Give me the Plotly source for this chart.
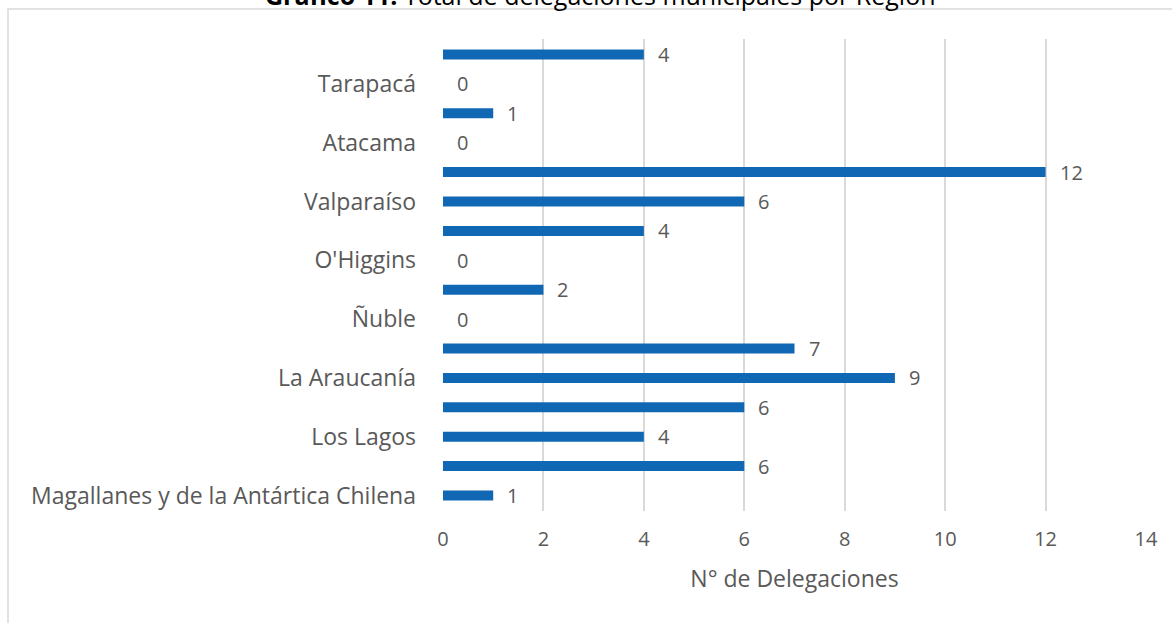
import plotly.graph_objects as go

regions = [
    "Arica y Parinacota", "Tarapacá", "Antofagasta", "Atacama", "Coquimbo",
    "Valparaíso", "Metropolitana de Santiago", "O'Higgins", "Maule", "Ñuble",
    "Biobío", "La Araucanía", "Los Ríos", "Los Lagos",
    "Aysén del General Carlos Ibáñez del Campo", "Magallanes y de la Antártica Chilena",
]
delegaciones = [4, 0, 1, 0, 12, 6, 4, 0, 2, 0, 7, 9, 6, 4, 6, 1]
# Only every other category label is displayed in the original chart
tick_labels = [r if i % 2 == 1 else "" for i, r in enumerate(regions)]
x_ticks = [0, 2, 4, 6, 8, 10, 12, 14]

W, H = 1172, 623
L, R, T, B = 443, 26, 39, 112
pw, ph = W - L - R, H - T - B

grey = "#595959"
font_family = "Open Sans, Calibri, sans-serif"

fig = go.Figure()
fig.add_trace(go.Bar(
    x=delegaciones, y=regions, orientation="h",
    marker=dict(color="#1068B4", line=dict(width=0)),
    width=0.34, hoverinfo="x+y",
))

for r, v in zip(regions, delegaciones):
    fig.add_annotation(x=v, y=r, xref="x", yref="y", text=str(v),
                       showarrow=False, xanchor="left", xshift=12,
                       font=dict(size=20, color=grey, family=font_family))

# Title (partially cut at top, as in the reference)
fig.add_annotation(
    x=(600 - L) / pw, xref="paper", xanchor="center",
    y=1, yref="paper", yanchor="middle", yshift=T + 5,
    text="<b>Gráfico 11.</b> Total de delegaciones municipales por Región",
    showarrow=False, font=dict(size=25, color="#000000", family=font_family),
)

# Chart frame
fig.add_shape(type="rect", xref="paper", yref="paper",
              x0=(8 - L) / pw, x1=1.2, y0=-0.5, y1=1 + (T - 9) / ph,
              line=dict(color="#D9D9D9", width=1.5), fillcolor="rgba(0,0,0,0)", layer="below")

fig.update_layout(
    width=W, height=H,
    margin=dict(l=L, r=R, t=T, b=B),
    paper_bgcolor="white", plot_bgcolor="white",
    showlegend=False,
    font=dict(family=font_family, color=grey, size=20),
    xaxis=dict(
        range=[0, 14], tickvals=x_ticks, showgrid=True, gridcolor="#D9D9D9", gridwidth=1.5,
        zeroline=False, showline=False, ticks="", tickfont=dict(size=20, color=grey),
        ticklabelstandoff=14,
        title=dict(text="N° de Delegaciones", font=dict(size=23, color=grey), standoff=19),
    ),
    yaxis=dict(
        categoryorder="array", categoryarray=regions, autorange="reversed",
        tickvals=regions, ticktext=tick_labels, showgrid=False, zeroline=False,
        showline=False, ticks="", tickfont=dict(size=23, color=grey),
        ticklabelstandoff=26,
    ),
    bargap=0.66,
)

fig.write_html("out.html", config={"displayModeBar": False},
               post_script="document.body.style.margin='0';")
